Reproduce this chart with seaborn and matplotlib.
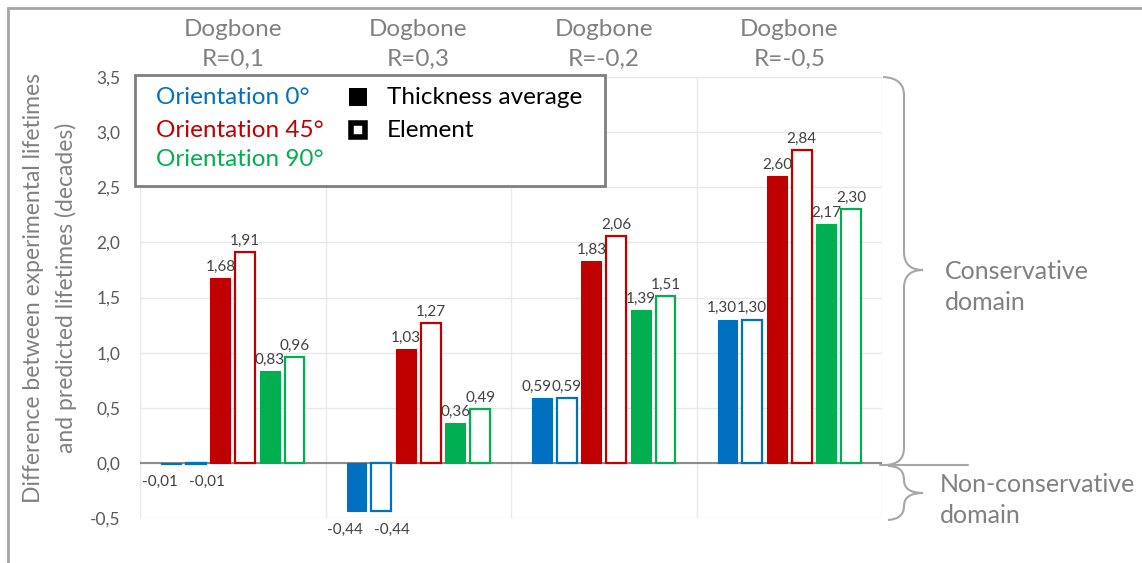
import numpy as np
import pandas as pd
import seaborn as sns
import matplotlib.pyplot as plt
from matplotlib.path import Path
from matplotlib.patches import PathPatch, Rectangle

# data
groups = ['Dogbone\nR=0,1', 'Dogbone\nR=0,3', 'Dogbone\nR=-0,2', 'Dogbone\nR=-0,5']
series = ['0° thickness avg', '0° element', '45° thickness avg', '45° element',
          '90° thickness avg', '90° element']
blue_avg = [-0.01, -0.44, 0.59, 1.30]
blue_elem = [-0.01, -0.44, 0.59, 1.30]
red_avg = [1.68, 1.03, 1.83, 2.60]
red_elem = [1.91, 1.27, 2.06, 2.84]
green_avg = [0.83, 0.36, 1.39, 2.17]
green_elem = [0.96, 0.49, 1.51, 2.30]
yticks = [-0.5, 0.0, 0.5, 1.0, 1.5, 2.0, 2.5, 3.0, 3.5]

all_vals = [blue_avg, blue_elem, red_avg, red_elem, green_avg, green_elem]
colors = ['#0070C0', '#0070C0', '#C00000', '#C00000', '#00B050', '#00B050']
hollow = [False, True, False, True, False, True]

rows = []
for s, vals in zip(series, all_vals):
    for g, v in zip(groups, vals):
        rows.append({'group': g, 'series': s, 'value': v})
df = pd.DataFrame(rows)

sns.set_style('white')
plt.rcParams['font.family'] = ['Lato', 'DejaVu Sans']

W, H = 1142, 563
fig, ax = plt.subplots(figsize=(W / 100, H / 100), dpi=100)
fig.subplots_adjust(left=140 / W, right=882 / W, bottom=1 - 518 / H, top=1 - 77 / H)

sns.barplot(data=df, x='group', y='value', hue='series', hue_order=series,
            palette=colors, saturation=1, width=0.8, gap=0.2, legend=False, ax=ax, zorder=3)

for i, (cont, vals, c, h) in enumerate(zip(ax.containers, all_vals, colors, hollow)):
    for p in cont:
        if h:
            p.set_facecolor('white')
            p.set_edgecolor(c)
            p.set_linewidth(1.6)
        else:
            p.set_edgecolor(c)
            p.set_linewidth(0.8)
    anns = ax.bar_label(cont, labels=[f'{v:.2f}'.replace('.', ',') for v in vals],
                        padding=3, fontsize=11, color='#404040')
    # spread the paired blue labels apart like the original
    if i < 2:
        for a, v in zip(anns, vals):
            if v < 0:
                a.xyann = (-8 if i == 0 else 8, -8)
            elif i == 0:
                a.xyann = (-4, 3)

ax.set_xlim(-0.5, 3.5)
ax.set_ylim(-0.5, 3.5)
ax.set_yticks(yticks)
ax.set_yticklabels([f'{t:.1f}'.replace('.', ',') for t in yticks])
ax.yaxis.grid(True, color='#e8e8e8', lw=1, zorder=0)
for x in [-0.5, 0.5, 1.5, 2.5, 3.5]:
    ax.axvline(x, color='#e8e8e8', lw=1, zorder=0)
ax.axhline(0, color='#8c8c8c', lw=1.5, zorder=1)
for sp in ax.spines.values():
    sp.set_visible(False)

ax.xaxis.set_ticks_position('top')
ax.tick_params(axis='x', labeltop=True, labelbottom=False, length=0, pad=5,
               labelsize=17.5, labelcolor='#808080')
for lab in ax.get_xticklabels():
    lab.set_linespacing(1.55)
ax.tick_params(axis='y', length=0, labelsize=12.5, labelcolor='#595959', pad=14)
ax.set_xlabel('')
ax.set_ylabel('')

fig.text(50 / W, 1 - 288 / H,
         'Difference between experimental lifetimes\nand predicted lifetimes (decades)',
         rotation=90, ha='center', va='center', fontsize=16.5, color='#808080', linespacing=1.6)

# legend box
ax.add_patch(Rectangle((-0.0067, 0.7528), 0.6334, 0.2517, transform=ax.transAxes,
                       facecolor='white', edgecolor='#7f7f7f', lw=2, zorder=5, clip_on=False))
for txt, c, yy in [('Orientation 0°', '#0070C0', 0.9546),
                   ('Orientation 45°', '#C00000', 0.8798),
                   ('Orientation 90°', '#00B050', 0.8118)]:
    ax.text(0.0216, yy, txt, color=c, fontsize=17.5, transform=ax.transAxes,
            va='center', ha='left', zorder=6)
ax.plot([0.2938], [0.9546], marker='s', ms=12.5, mfc='black', mew=0,
        transform=ax.transAxes, zorder=6, clip_on=False)
ax.plot([0.2938], [0.8798], marker='s', ms=10.5, mfc='white', mec='black', mew=4,
        transform=ax.transAxes, zorder=6, clip_on=False)
ax.text(0.3329, 0.9546, 'Thickness average', fontsize=17.5, color='black',
        transform=ax.transAxes, va='center', ha='left', zorder=6)
ax.text(0.3329, 0.8798, 'Element', fontsize=17.5, color='black',
        transform=ax.transAxes, va='center', ha='left', zorder=6)


def px(x, y):
    return (x / W, 1 - y / H)


# braces on the right
brace_col = '#a6a6a6'
verts = [px(883, 77), px(904, 78), px(904, 95), px(904, 252), px(904, 270), px(923, 270),
         px(904, 270), px(904, 288), px(904, 448), px(904, 464), px(886, 465)]
codes = [Path.MOVETO, Path.CURVE3, Path.CURVE3, Path.LINETO, Path.CURVE3, Path.CURVE3,
         Path.CURVE3, Path.CURVE3, Path.LINETO, Path.CURVE3, Path.CURVE3]
fig.add_artist(PathPatch(Path(verts, codes), transform=fig.transFigure, fill=False,
                         edgecolor=brace_col, lw=1.5))
verts2 = [px(888, 466), px(904, 466), px(904, 480), px(904, 493), px(923, 493),
          px(904, 493), px(904, 506), px(904, 519), px(888, 520)]
codes2 = [Path.MOVETO, Path.CURVE3, Path.CURVE3, Path.CURVE3, Path.CURVE3,
          Path.CURVE3, Path.CURVE3, Path.CURVE3, Path.CURVE3]
fig.add_artist(PathPatch(Path(verts2, codes2), transform=fig.transFigure, fill=False,
                         edgecolor=brace_col, lw=1.5))
fig.add_artist(plt.Line2D([880 / W, 968 / W], [1 - 465 / H, 1 - 465 / H],
                          transform=fig.transFigure, color=brace_col, lw=1.5))
fig.text(945 / W, 1 - 287 / H, 'Conservative\ndomain', fontsize=18, color='#808080',
         ha='left', va='center', linespacing=1.4)
fig.text(940 / W, 1 - 500 / H, 'Non-conservative\ndomain', fontsize=18, color='#808080',
         ha='left', va='center', linespacing=1.4)

# outer frame
fig.add_artist(Rectangle((8 / W, -0.05), 1.2, 1 - 8 / H + 0.05, transform=fig.transFigure,
                         fill=False, edgecolor='#a6a6a6', lw=2))

fig.savefig('out.png', dpi=100)
